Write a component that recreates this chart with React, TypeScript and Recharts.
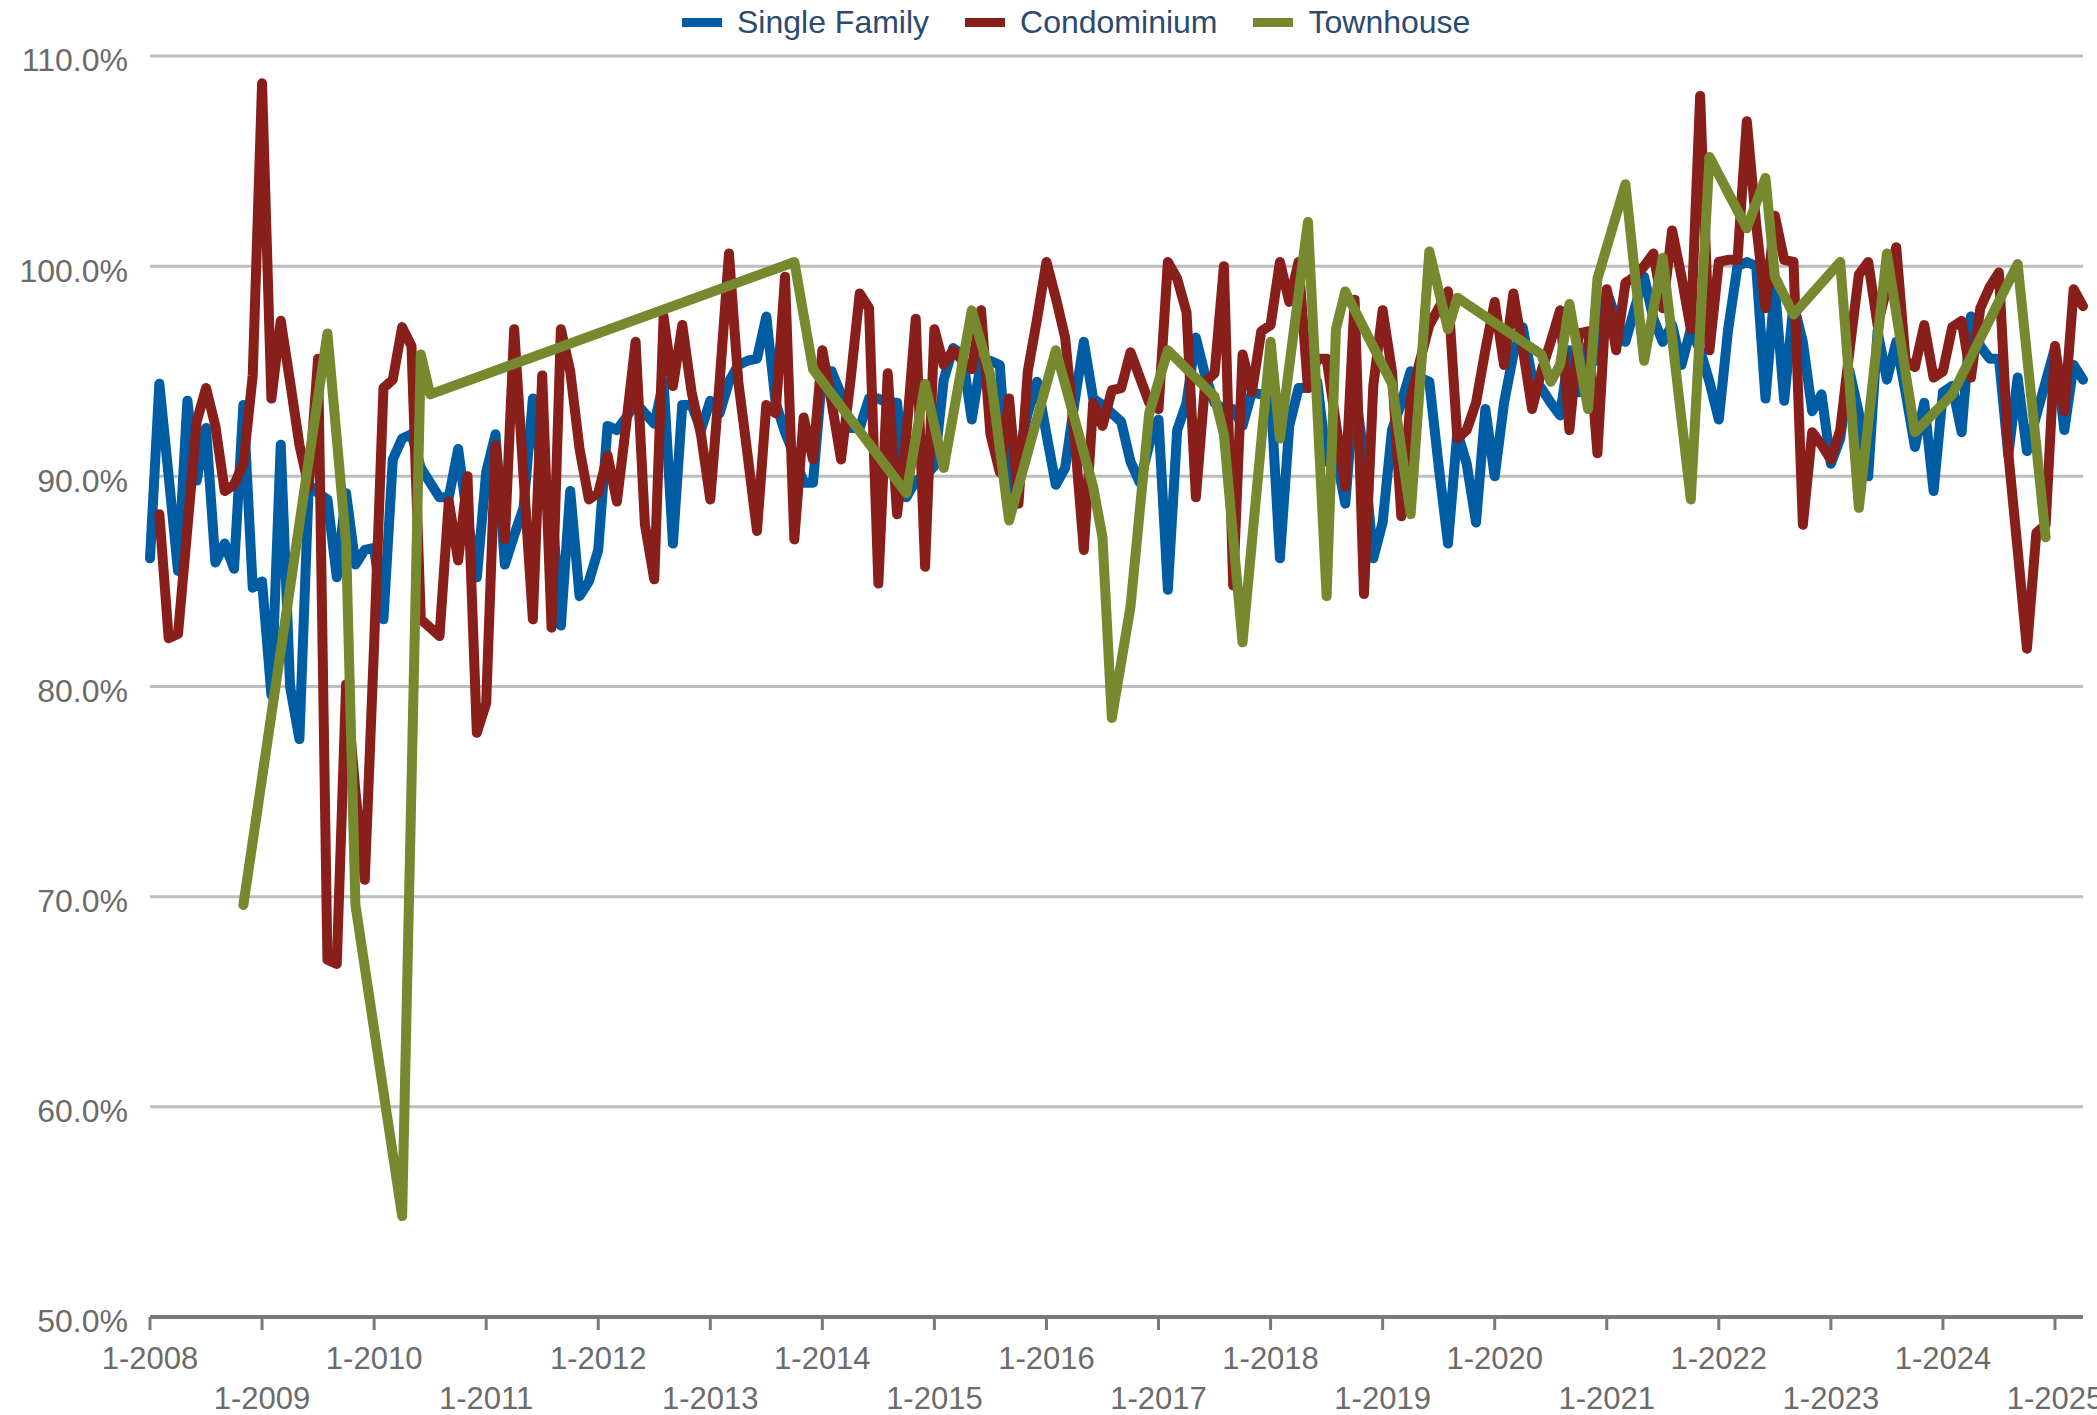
import React from "react";
import { LineChart, Line, XAxis, YAxis, CartesianGrid } from "recharts";

const startYear = 2008;

// monthly values, Jan 2008 .. Apr 2025
const singleFamily = [
  86.1, 94.4, 90.0, 85.5, 93.6, 89.8, 92.3, 85.9, 86.8, 85.6, 93.4, 84.7,
  85.0, 79.6, 91.5, 80.0, 77.5, 89.6, 89.2, 88.9, 85.2, 89.2, 85.8, 86.5,
  86.6, 83.2, 90.8, 91.8, 92.0, 90.4, 89.7, 89.0, 89.0, 91.3, 88.0, 85.2,
  90.2, 92.0, 85.8, 87.2, 88.5, 93.7, 90.0, 88.7, 82.9, 89.3, 84.3, 85.0,
  86.5, 92.4, 92.2, 92.8, 93.5, 93.0, 92.5, 94.5, 86.8, 93.4, 93.4, 92.2,
  93.6, 93.0, 94.5, 95.3, 95.5, 95.6, 97.6, 93.5, 92.1, 91.0, 89.7, 89.7,
  94.9, 95.0, 93.9, 92.3, 92.3, 93.7, 93.7, 93.5, 93.5, 89.0, 89.8, 90.0,
  90.5, 94.6, 96.1, 95.8, 92.7, 95.5, 95.5, 95.3, 89.2, 91.0, 93.0, 94.5,
  92.0, 89.6, 90.4, 93.5, 96.4, 93.7, 93.4, 93.0, 92.6, 90.7, 89.7, 91.5,
  92.7, 84.6, 92.2, 93.5, 96.6, 94.8, 93.5, 93.2, 93.2, 92.4, 94.0, 93.9,
  94.0, 86.1, 92.4, 94.2, 94.2, 94.5, 90.7, 91.0, 88.7, 94.2, 91.0, 86.1,
  87.8, 92.2, 93.5, 95.0, 94.7, 94.5, 90.5, 86.8, 92.1, 90.6, 87.8, 93.2,
  90.0, 93.5, 95.8, 97.1, 94.7, 94.2, 93.5, 92.9, 96.0, 94.0, 96.3, 95.5,
  98.8, 97.5, 96.4, 98.0, 99.5, 97.5, 96.4, 97.2, 95.3, 97.0, 96.0, 94.5,
  92.7, 97.0, 100.0, 100.2, 100.0, 93.7, 99.0, 93.6, 98.2, 96.4, 93.1, 93.9,
  90.6, 91.8, 95.0, 93.0, 90.0, 96.9, 94.6, 96.4, 94.0, 91.4, 93.5, 89.3,
  94.0, 94.3, 92.1, 97.6, 96.2, 95.6, 95.6, 91.0, 94.7, 91.2, 92.9, 94.5,
  96.1, 92.2, 95.3, 94.6,
];

const condominium = [
  null, 88.2, 82.3, 82.5, 87.5, 92.6, 94.2, 92.4, 89.3, 89.6, 90.6, 94.8,
  108.7, 93.7, 97.4, 94.5, 91.5, 89.5, 95.6, 67.0, 66.8, 80.1, 75.0, 70.8,
  82.0, 94.2, 94.6, 97.1, 96.2, 83.2, 82.8, 82.4, 88.8, 86.0, 90.0, 77.8,
  79.2, 91.5, 87.0, 97.0, 90.0, 83.2, 94.8, 82.8, 97.0, 95.0, 91.3, 88.9,
  89.2, 91.0, 88.8, 92.5, 96.4, 87.7, 85.1, 97.6, 94.3, 97.2, 94.0, 92.0,
  88.9, 94.5, 100.6, 94.5, 91.0, 87.4, 93.4, 93.0, 99.5, 87.0, 92.8, 90.8,
  96.0, 93.5, 90.8, 94.5, 98.7, 98.0, 84.9, 94.9, 88.2, 92.0, 97.5, 85.7,
  97.0, 95.3, 96.0, 95.5, 95.1, 97.9, 92.0, 90.2, 93.7, 88.7, 95.0, 97.5,
  100.2, 98.5, 96.6, 92.0, 86.5, 93.5, 92.4, 94.1, 94.2, 95.9, 94.7, 93.5,
  93.2, 100.2, 99.4, 97.8, 89.0, 94.5, 94.9, 100.0, 84.8, 95.8, 94.0, 96.9,
  97.2, 100.2, 98.3, 100.2, 94.2, 95.6, 95.6, 92.5, 89.5, 98.4, 84.4, 94.3,
  97.9, 95.0, 88.1, 93.7, 95.5, 97.2, 98.0, 98.8, 91.8, 92.2, 93.5, 96.0,
  98.3, 95.3, 98.7, 96.1, 93.2, 95.0, 96.4, 97.9, 92.2, 96.8, 96.9, 91.1,
  98.9, 96.0, 99.2, 99.5, 100.0, 100.6, 98.0, 101.7, 99.5, 97.0, 108.1, 96.0,
  100.2, 100.3, 100.3, 106.9, 102.0, 98.0, 102.4, 100.3, 100.2, 87.7, 92.1, 91.5,
  90.8, 92.2, 96.0, 99.6, 100.2, 97.2, 99.0, 100.9, 95.5, 95.2, 97.2, 94.7,
  95.0, 97.1, 97.4, 94.7, 98.0, 99.0, 99.7, 91.1, 86.5, 81.8, 87.3, 87.7,
  96.2, 93.1, 98.9, 98.1,
];

// townhouse only reported in some months (month index from Jan 2008)
const townhouseMonths = [
  10, 19, 21, 22, 27, 29, 30, 69, 71, 81, 83, 85, 88, 90, 92, 97, 101, 102, 103,
  105, 107, 109, 114, 115, 117, 120, 121, 124, 126, 127, 128, 133, 135, 137, 139,
  140, 149, 150, 151, 152, 154, 155, 158, 160, 162, 165, 167, 171, 173, 174, 176,
  181, 183, 186, 189, 193, 200, 203,
];
const townhouseValues = [
  69.6, 96.8, 86.8, 69.6, 54.8, 95.8, 93.9, 100.2, 95.1, 89.2, 94.4, 90.4, 97.9,
  94.8, 87.9, 96.0, 89.5, 87.1, 78.5, 83.8, 93.0, 96.0, 93.8, 92.0, 82.1, 96.4,
  91.8, 102.1, 84.3, 97.0, 98.8, 94.4, 88.2, 100.7, 97.0, 98.5, 95.8, 94.5, 95.3,
  98.2, 93.2, 99.4, 103.9, 95.5, 100.4, 88.9, 105.2, 101.8, 104.2, 99.5, 97.7,
  100.2, 88.5, 100.6, 92.1, 93.9, 100.1, 87.1,
];

const yTicks = [50, 60, 70, 80, 90, 100, 110];

const data = singleFamily.map((v, i) => ({
  idx: i,
  label: `${(i % 12) + 1}-${startYear + Math.floor(i / 12)}`,
  sf: v,
  condo: condominium[i],
  town: null as number | null,
}));
townhouseMonths.forEach((m, k) => {
  data[m].town = townhouseValues[k];
});

const xTicks = data.filter((d) => d.idx % 12 === 0).map((d) => d.idx);

const series = [
  { key: "sf", name: "Single Family", color: "#005DA3" },
  { key: "condo", name: "Condominium", color: "#891F1A" },
  { key: "town", name: "Townhouse", color: "#77892F" },
];

const font = "'Liberation Sans', Arial, sans-serif";

const XTick = (props: any) => {
  const { x, y, payload } = props;
  const n = payload.value / 12;
  const row = n % 2;
  return (
    <text
      x={x}
      y={y + 37 + row * 40}
      textAnchor="middle"
      fill="#6b6b6b"
      fontSize={31}
      fontFamily={font}
    >
      {`1-${startYear + n}`}
    </text>
  );
};

const App: React.FC = () => {
  return (
    <div style={{ position: "relative", width: 2097, height: 1415, background: "#fff" }}>
      <style>{"body{margin:0}"}</style>
      {/* Legend */}
      <div
        style={{
          position: "absolute",
          top: 5,
          left: 682,
          height: 34,
          display: "flex",
          alignItems: "center",
          fontFamily: font,
          fontSize: 32,
          color: "#2C4A6E",
          zIndex: 2,
        }}
      >
        {series.map((s, i) => (
          <div key={s.key} style={{ display: "flex", alignItems: "center", marginRight: i < 2 ? 36 : 0 }}>
            <span style={{ display: "inline-block", width: 40, height: 9, background: s.color, marginRight: 15 }} />
            <span>{s.name}</span>
          </div>
        ))}
      </div>
      <LineChart width={2097} height={1415} data={data} margin={{ top: 56, right: 14, left: 0, bottom: 0 }}>
        <CartesianGrid vertical={false} stroke="#bdbdbd" strokeWidth={3} />
        <XAxis
          dataKey="idx"
          type="number"
          domain={[0, data.length - 1]}
          ticks={xTicks}
          interval={0}
          height={98}
          axisLine={{ stroke: "#7a7a7a", strokeWidth: 4 }}
          tickLine={{ stroke: "#7a7a7a", strokeWidth: 3 }}
          tickSize={13}
          tick={<XTick />}
        />
        <YAxis
          domain={[50, 110]}
          ticks={yTicks}
          width={150}
          axisLine={false}
          tickLine={false}
          tickMargin={16}
          tickFormatter={(v: number) => `${v.toFixed(1)}%`}
          tick={{ fill: "#6b6b6b", fontSize: 32, fontFamily: font, dy: 4 }}
        />
        {series.map((s) => (
          <Line
            key={s.key}
            type="linear"
            dataKey={s.key}
            name={s.name}
            stroke={s.color}
            strokeWidth={10}
            strokeLinejoin="round"
            strokeLinecap="round"
            dot={false}
            activeDot={false}
            connectNulls
            isAnimationActive={false}
          />
        ))}
      </LineChart>
    </div>
  );
};

export default App;
